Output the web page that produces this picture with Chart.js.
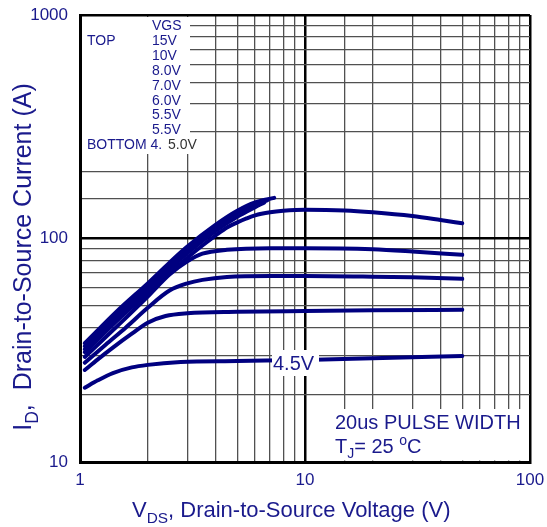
<!DOCTYPE html>
<html>
<head>
<meta charset="utf-8">
<script src="https://cdn.jsdelivr.net/npm/chart.js@4.4.1/dist/chart.umd.min.js"></script>
<style>
  body { margin: 0; background: #fff; }
  #wrap { width: 547px; height: 527px; }
</style>
</head>
<body>
<div id="wrap"><canvas id="outputChart" width="547" height="527"></canvas></div>
<script>
// tick labels shown on the axes
const xTickLabels = [1, 10, 100];
const yTickLabels = [10, 100, 1000];

// legend text (VGS list)
const legendRows = ['VGS', '15V', '10V', '8.0V', '7.0V', '6.0V', '5.5V', '5.5V'];

// output curves, VDS (V) vs ID (A), one pair of arrays per VGS
const vds_15V = [1.05, 1.5, 2, 2.5, 3, 4, 5, 6, 7.3];
const id_15V  = [34, 48.5, 63, 78, 92, 115, 133, 145, 152];

const vds_10V = [1.05, 1.5, 2, 2.5, 3, 4, 5, 6, 6.8];
const id_10V  = [33, 47, 61, 75.5, 89, 112, 130, 142, 148];

const vds_8V = [1.05, 1.5, 2, 2.5, 3, 4, 5, 6, 6.6];
const id_8V  = [32, 45.5, 59.5, 73, 86, 108, 125, 138, 145];

const vds_7V = [1.05, 1.5, 2, 2.5, 3, 3.5, 4, 4.5, 5, 5.5, 6, 7, 8, 10, 15, 20, 30, 40, 50];
const id_7V  = [31, 44, 57, 70, 82, 93, 103, 112, 118, 123, 127, 131, 133, 134.5, 133.5, 131, 126, 121, 117];

const vds_6V = [1.05, 1.5, 2, 2.5, 3, 3.5, 4.5, 7, 10, 20, 30, 50];
const id_6V  = [29.5, 41.5, 55, 69, 79, 85.5, 89, 90.5, 90.5, 89.5, 87.5, 84.5];

const vds_55V = [1.05, 1.3, 1.6, 2, 2.5, 3, 3.5, 4.5, 7, 10, 20, 30, 50];
const id_55V  = [27.8, 33.5, 40, 49, 58.5, 63, 65.3, 67.3, 68, 68, 67.5, 67, 66];

const vds_5V = [1.05, 1.2, 1.4, 1.7, 2, 2.4, 3, 5, 10, 20, 50];
const id_5V  = [25.8, 28.8, 32.5, 37.5, 42, 45, 46.3, 47, 47.4, 47.7, 48];

const vds_45V = [1.05, 1.2, 1.4, 1.7, 2, 2.8, 5, 10, 20, 50];
const id_45V  = [21.5, 23.2, 25, 26.5, 27.2, 28, 28.3, 28.6, 29.1, 29.8];

const curves = [
  [vds_15V, id_15V], [vds_10V, id_10V], [vds_8V, id_8V], [vds_7V, id_7V],
  [vds_6V, id_6V], [vds_55V, id_55V], [vds_5V, id_5V], [vds_45V, id_45V]
];

const FONT = '"Liberation Sans", Arial, sans-serif';
const TEXT = '#1a1a8c';
const LINE = '#000080';

function isDecade(v) {
  const l = Math.log10(v);
  return Math.abs(l - Math.round(l)) < 1e-6;
}

// draw a string made of normal / sub / sup runs, returns width
function drawRuns(ctx, x, y, runs, size) {
  let cx = x;
  for (const [t, k] of runs) {
    const s = k ? size * 0.7 : size;
    ctx.font = s + 'px ' + FONT;
    const dy = k === 1 ? size * 0.28 : (k === 2 ? -size * 0.4 : 0);
    ctx.fillText(t, cx, y + dy);
    cx += ctx.measureText(t).width;
  }
  return cx - x;
}
function runsWidth(ctx, runs, size) {
  let w = 0;
  for (const [t, k] of runs) {
    ctx.font = (k ? size * 0.7 : size) + 'px ' + FONT;
    w += ctx.measureText(t).width;
  }
  return w;
}

const whiteBoxes = {
  id: 'whiteBoxes',
  beforeDatasetsDraw(chart) {
    const ctx = chart.ctx;
    ctx.save();
    ctx.fillStyle = '#fff';
    ctx.fillRect(82, 17, 108, 137);   // legend area
    ctx.fillRect(330, 409, 198, 51.5); // pulse width note
    ctx.restore();
  }
};

const textLayer = {
  id: 'textLayer',
  afterDatasetsDraw(chart) {
    const ctx = chart.ctx;
    ctx.save();
    ctx.textBaseline = 'alphabetic';
    ctx.textAlign = 'left';

    // legend
    ctx.fillStyle = TEXT;
    ctx.font = '14px ' + FONT;
    legendRows.forEach((t, i) => ctx.fillText(t, 152, 30 + i * 14.9));
    ctx.fillText('TOP', 87, 45);
    ctx.fillText('BOTTOM 4.', 87, 149.2);
    ctx.fillStyle = '#333';
    ctx.fillText('5.0V', 168, 149.2);

    // 4.5V curve label
    ctx.fillStyle = '#fff';
    ctx.fillRect(272, 350, 47, 26);
    ctx.fillStyle = TEXT;
    ctx.font = '20px ' + FONT;
    ctx.fillText('4.5V', 273, 370);

    // conditions
    ctx.font = '20px ' + FONT;
    ctx.fillText('20us PULSE WIDTH', 335, 429);
    drawRuns(ctx, 335, 452.5, [['T', 0], ['J', 1], ['= 25 ', 0], ['o', 2], ['C', 0]], 20);

    // x title
    drawRuns(ctx, 132, 517, [['V', 0], ['DS', 1], [', Drain-to-Source Voltage (V)', 0]], 22);

    // y title (rotated)
    const yRuns = [['I', 0], ['D', 1], [',  Drain-to-Source Current (A)', 0]];
    const w = runsWidth(ctx, yRuns, 25);
    ctx.translate(31, 257);
    ctx.rotate(-Math.PI / 2);
    drawRuns(ctx, -w / 2, 0, yRuns, 25);
    ctx.restore();
  }
};

function gridColor(c) {
  const v = c.tick ? c.tick.value : 0;
  return isDecade(v) ? '#000' : '#505050';
}
function gridWidth(c) {
  const v = c.tick ? c.tick.value : 0;
  return isDecade(v) ? 2.5 : 1.3;
}

const ctx = document.getElementById('outputChart').getContext('2d');
new Chart(ctx, {
  type: 'scatter',
  data: {
    datasets: curves.map(([xs, ys]) => ({
      data: xs.map((x, i) => ({ x: x, y: ys[i] })),
      showLine: true,
      borderColor: LINE,
      borderWidth: 4,
      borderCapStyle: 'round',
      borderJoinStyle: 'round',
      cubicInterpolationMode: 'monotone',
      pointRadius: 0,
      fill: false
    }))
  },
  options: {
    responsive: false,
    animation: false,
    layout: { padding: { top: 15, right: 17, left: 0, bottom: 0 } },
    plugins: { legend: { display: false }, tooltip: { enabled: false } },
    scales: {
      x: {
        type: 'logarithmic', min: 1, max: 100,
        afterFit: s => { s.height = 65; s.paddingLeft = 0; s.paddingRight = 0; },
        ticks: {
          autoSkip: false, maxRotation: 0, padding: 8, color: TEXT,
          font: { size: 17, family: FONT },
          callback: v => (xTickLabels.includes(Math.round(v)) && isDecade(v)) ? String(Math.round(v)) : ''
        },
        grid: { drawTicks: false, color: gridColor, lineWidth: gridWidth },
        border: { display: true, color: '#000', width: 3 }
      },
      y: {
        type: 'logarithmic', min: 10, max: 1000,
        afterFit: s => { s.width = 80; s.paddingTop = 0; s.paddingBottom = 0; },
        ticks: {
          autoSkip: false, padding: 12, color: TEXT,
          font: { size: 17, family: FONT },
          callback: v => (yTickLabels.includes(Math.round(v)) && isDecade(v)) ? String(Math.round(v)) : ''
        },
        grid: { drawTicks: false, color: gridColor, lineWidth: gridWidth },
        border: { display: true, color: '#000', width: 3 }
      }
    }
  },
  plugins: [whiteBoxes, textLayer]
});
</script>
</body>
</html>
